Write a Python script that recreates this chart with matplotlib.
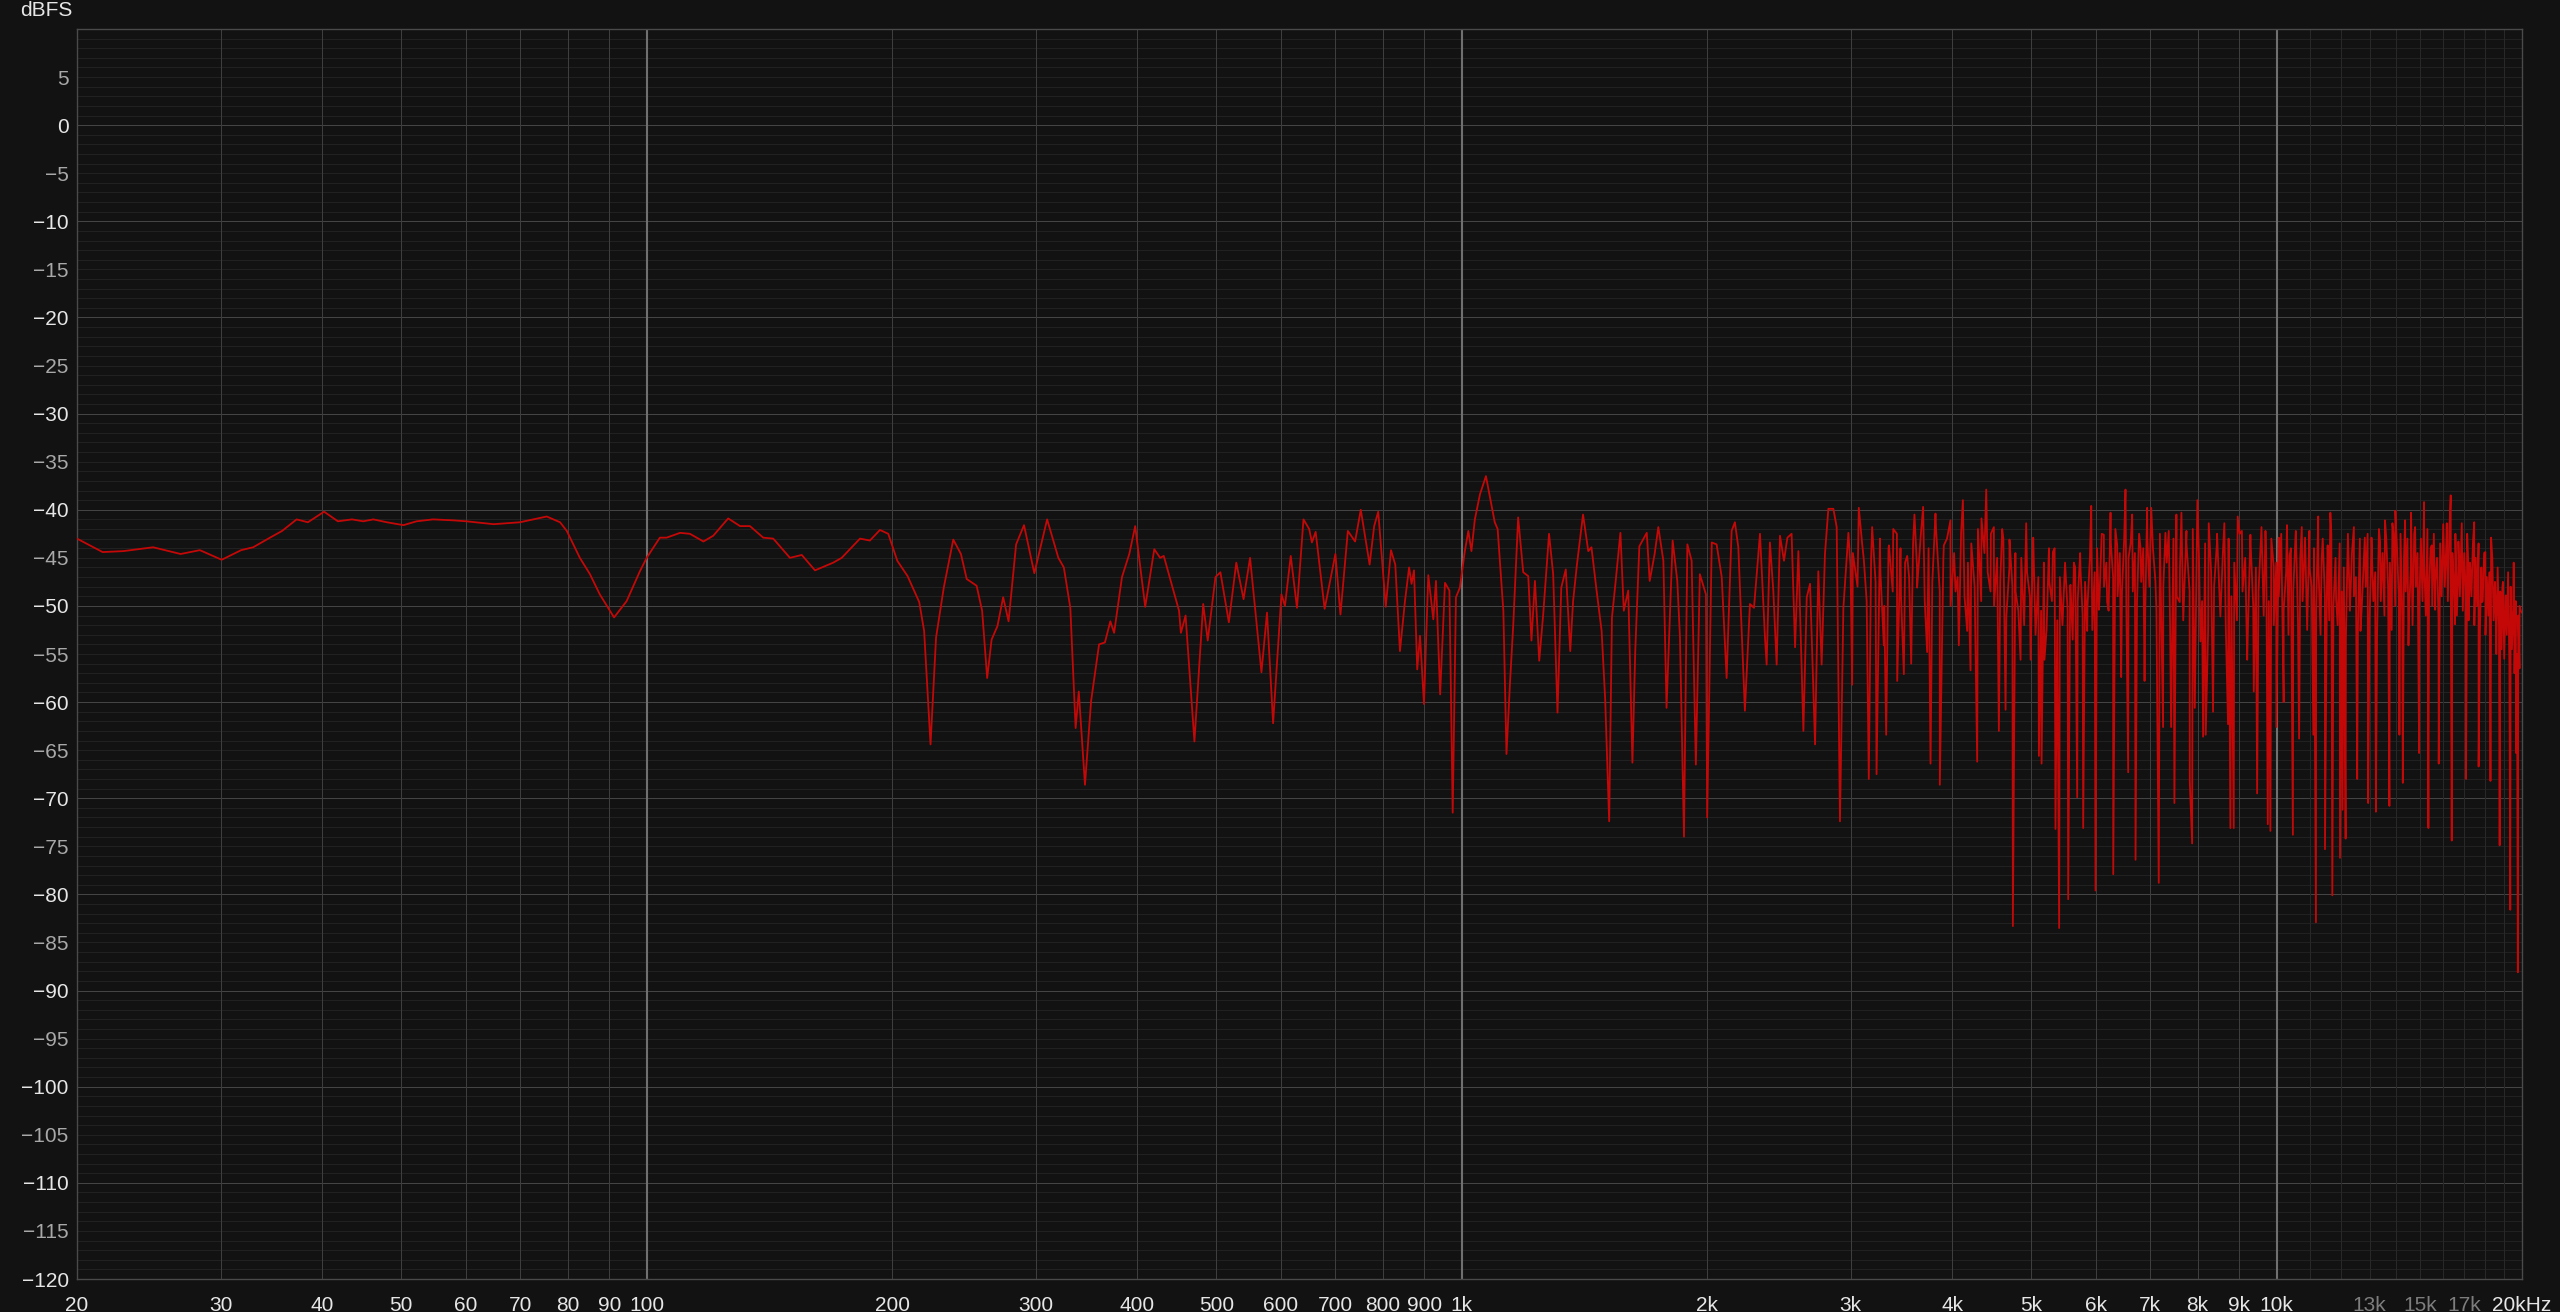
import numpy as np
import matplotlib.pyplot as plt

# Frequency response (Hz, dBFS)
freq_low = [20.0, 21.5, 22.8, 24.8, 26.8, 28.3, 30.1, 31.8, 32.9, 34.5, 35.7, 37.2, 38.4, 40.2,
            41.8, 43.5, 44.9, 46.2, 48.0, 50.3, 52.2, 54.7, 57.9, 60.1, 64.9, 69.9, 75.4, 78.3,
            79.8, 82.8, 85.2, 87.6, 91.2, 94.5, 98.1, 100, 103.8, 105.8, 109.9, 113.0, 117.4,
            120.7, 125.9, 130.2, 133.9, 139.0, 143.0, 149.9, 155.0, 160.9, 169.4, 173.5, 182.7,
            187.9, 193.3, 197.9]
db_low = [-43.0, -44.4, -44.3, -43.9, -44.6, -44.2, -45.2, -44.2, -43.9, -42.9, -42.2, -41.0,
          -41.3, -40.2, -41.2, -41.0, -41.2, -41.0, -41.3, -41.6, -41.2, -41.0, -41.1, -41.2,
          -41.5, -41.3, -40.7, -41.3, -42.2, -45.0, -46.7, -48.8, -51.2, -49.5, -46.4, -45.0,
          -42.9, -42.9, -42.4, -42.5, -43.3, -42.7, -40.9, -41.7, -41.7, -42.9, -43.0, -45.0,
          -44.7, -46.3, -45.5, -45.0, -43.0, -43.2, -42.1, -42.5]

freq_lmid = [203, 209, 216, 219, 223, 226.5, 231.5, 237.8, 243, 247, 254, 258, 261.7, 265,
             269.4, 273.8, 278, 284, 290.4, 299, 310, 320, 325, 331, 336, 339, 345, 351, 359,
             365, 370.6, 374.6, 383, 391, 397.6, 409, 419.6, 426.6, 431, 450, 452.4, 458.4,
             470, 481.8, 488, 498.8, 505.8, 518, 529, 540, 550, 568, 577, 587, 601, 607, 617,
             628, 639.6, 650, 655, 662, 679, 700, 710, 725, 740, 752, 771, 781, 790, 807, 819,
             829]
db_lmid = [-45.3, -46.9, -49.6, -52.6, -64.4, -53.3, -48.1, -43.1, -44.6, -47.2, -47.9, -50.5,
           -57.5, -53.5, -52.1, -49.1, -51.6, -43.6, -41.6, -46.6, -41.0, -45.0, -46.0, -50.2,
           -62.7, -58.9, -68.6, -59.9, -54.0, -53.8, -51.6, -52.8, -47.0, -44.6, -41.7, -50.1,
           -44.1, -45.0, -44.8, -50.5, -52.8, -51.0, -64.1, -49.8, -53.6, -47.0, -46.5, -51.7,
           -45.5, -49.3, -45.0, -56.9, -50.7, -62.2, -48.8, -50.0, -44.8, -50.2, -41.0, -42.0,
           -43.4, -42.3, -50.3, -44.6, -50.9, -42.2, -43.3, -40.0, -45.7, -41.7, -40.2, -50.1,
           -44.2, -45.7]

freq_mid = [840, 852, 862, 868, 874, 882, 889, 899, 910, 923, 930, 941, 954, 966, 975, 984, 995,
            1009, 1019, 1028, 1038, 1053, 1071, 1098, 1107, 1125, 1135, 1146, 1157, 1173, 1190,
            1207, 1218, 1230, 1245, 1259, 1280, 1295, 1311, 1325, 1342, 1359, 1370, 1385, 1409,
            1430, 1443, 1464, 1485, 1500, 1517, 1529, 1544, 1566, 1581, 1601, 1620, 1633, 1652,
            1687, 1701, 1725, 1743, 1768, 1784, 1815, 1839, 1853, 1874, 1892, 1915, 1938, 1960,
            1994, 2001, 2027, 2055, 2085, 2114, 2144, 2164, 2185, 2226, 2258, 2284, 2323, 2356,
            2367, 2389, 2412, 2435, 2458, 2486, 2510, 2540, 2565, 2589, 2626, 2651, 2676, 2714,
            2739, 2765, 2791, 2818, 2858, 2885, 2912, 2940, 2982]
db_mid = [-54.7, -49.5, -46.0, -47.7, -46.3, -56.6, -53.1, -60.2, -46.8, -51.4, -47.4, -59.2,
          -47.6, -48.4, -71.5, -49.1, -48.1, -44.3, -42.2, -44.3, -41.0, -38.4, -36.5, -41.3,
          -42.0, -50.5, -65.4, -58.2, -51.9, -40.8, -46.5, -46.9, -53.6, -47.4, -55.7, -50.9,
          -42.5, -46.7, -61.1, -48.1, -46.2, -54.7, -49.5, -45.7, -40.5, -44.3, -43.9, -48.4,
          -52.6, -59.7, -72.4, -51.2, -47.7, -42.4, -50.5, -48.4, -66.3, -54.7, -43.8, -42.4,
          -47.4, -44.6, -41.8, -45.3, -60.6, -43.2, -47.4, -53.3, -74.0, -43.6, -45.3, -66.5,
          -46.7, -48.8, -72.0, -43.4, -43.6, -47.0, -57.5, -42.2, -41.3, -43.9, -60.9, -49.8,
          -50.2, -42.5, -53.3, -56.1, -43.4, -48.4, -56.1, -42.7, -45.3, -42.9, -42.5, -54.3,
          -44.3, -63.0, -49.1, -47.7, -64.4, -46.4, -56.1, -44.6, -39.9, -39.9, -41.8, -72.4,
          -50.2, -42.4]

# 3k - 7k: peaks and notches
freq_hi = [3000, 3014, 3071, 3115, 3159, 3189, 3229, 3265, 3296, 3318, 3344, 3385, 3423, 3455,
           3488, 3521, 3561, 3594, 3621, 3683, 3725, 3761, 3814, 3861, 3905, 3979, 4036, 4074,
           4121, 4171, 4211, 4291, 4343, 4402, 4456, 4498, 4562, 4605, 4649, 4701, 4746, 4782,
           4850, 4928, 4990, 5027, 5108, 5147, 5189, 5255, 5314, 5353, 5409, 5482, 5549, 5585,
           5638, 5692, 5746, 5789, 5855, 5922, 5994, 6051, 6137, 6195, 6254, 6302, 6373, 6445,
           6524, 6574, 6649, 6712, 6808, 6885, 6936, 7016]
db_hi = [-45.9, -58.2, -39.8, -45.2, -68.0, -41.8, -67.5, -46.6, -54.1, -63.4, -43.7, -42.0,
         -57.8, -44.0, -57.1, -44.8, -56.0, -40.5, -48.1, -39.7, -54.8, -66.4, -40.4, -68.6,
         -43.7, -41.1, -48.5, -54.1, -39.0, -52.6, -56.7, -66.2, -40.9, -37.9, -48.5, -41.8,
         -63.0, -42.0, -60.8, -43.1, -83.3, -48.5, -55.6, -41.4, -55.6, -42.9, -65.6, -66.4,
         -55.6, -44.0, -44.4, -73.2, -83.5, -48.5, -80.5, -47.8, -45.5, -69.9, -46.3, -73.1,
         -52.6, -39.6, -79.6, -50.4, -42.6, -49.6, -40.3, -77.9, -43.7, -57.4, -37.9, -67.3,
         -40.5, -76.4, -44.0, -57.8, -39.8, -39.8]

# 7k - 20k: peaks and notches
freq_top = [7099, 7167, 7255, 7303, 7372, 7421, 7491, 7533, 7605, 7641, 7750, 7823, 7876, 7935,
            7994, 8062, 8123, 8184, 8254, 8355, 8450, 8530, 8626, 8716, 8775, 8858, 8957, 9065,
            9201, 9285, 9373, 9463, 9580, 9689, 9752, 9825, 9918, 9993, 10059, 10200, 10296,
            10372, 10469, 10557, 10655, 10735, 10836, 10968, 11092, 11174, 11246, 11355, 11463,
            11550, 11638, 11703, 11829, 11960, 12048, 12151, 12264, 12438, 12555, 12673, 12828,
            12950, 13073, 13236, 13393, 13581, 13751, 13868, 13986, 14145, 14282, 14375, 14512,
            14620, 14787, 14955, 15166, 15352, 15499, 15645, 15807, 15985, 16170, 16352, 16399,
            16554, 16711, 16870, 17077, 17191, 17474, 17693, 17863, 18033, 18295, 18328, 18561,
            18777, 18921, 19106, 19348, 19537, 19670, 19766, 19863, 20000]
db_top = [-47.4, -78.8, -62.6, -42.4, -42.2, -62.6, -70.5, -40.5, -49.6, -40.3, -42.2, -68.2,
          -74.7, -60.6, -39.0, -53.7, -63.6, -63.4, -41.4, -61.0, -43.3, -51.1, -41.4, -62.3,
          -73.1, -73.1, -40.7, -42.2, -55.6, -42.6, -58.9, -69.5, -41.8, -42.2, -72.7, -73.4,
          -45.9, -62.6, -42.9, -60.0, -41.6, -44.8, -73.8, -42.2, -63.8, -41.8, -42.9, -42.2,
          -63.4, -82.9, -40.7, -45.2, -75.3, -43.7, -40.3, -80.1, -49.3, -76.2, -71.2, -74.2,
          -46.6, -41.8, -68.0, -52.6, -42.9, -70.5, -42.9, -71.4, -43.3, -41.1, -70.8, -41.4,
          -40.1, -63.4, -68.4, -41.1, -54.1, -40.3, -41.8, -65.3, -39.2, -73.1, -43.7, -50.4,
          -66.4, -44.0, -41.4, -38.5, -74.4, -51.9, -43.3, -41.4, -68.0, -45.9, -41.3, -66.7,
          -49.6, -44.4, -68.2, -42.9, -49.6, -74.9, -48.1, -48.9, -81.6, -45.5, -65.3, -88.1,
          -50.0, -50.7]

# dense band between the peaks, 3k - 7k
freq_band_a = [3020, 3060, 3100, 3140, 3180, 3220, 3260, 3300, 3340, 3380, 3420, 3460, 3500, 3540,
               3580, 3620, 3660, 3700, 3740, 3780, 3820, 3860, 3900, 3940, 3980, 4020, 4060, 4100,
               4140, 4180, 4220, 4260, 4300, 4340, 4380, 4420, 4460, 4500, 4540, 4580, 4620, 4660,
               4700, 4740, 4780, 4820, 4860, 4900, 4940, 4980, 5020, 5060, 5100, 5140, 5180, 5220,
               5260, 5300, 5340, 5380, 5420, 5460, 5500, 5540, 5580, 5620, 5660, 5700, 5740, 5780,
               5820, 5860, 5900, 5940, 5980, 6020, 6060, 6100, 6140, 6180, 6220, 6260, 6300, 6340,
               6380, 6420, 6460, 6500, 6540, 6580, 6620, 6660, 6700, 6740, 6780, 6820, 6860, 6900,
               6940, 6980]
db_band_a = [-44.5, -48.0, -43.5, -49.5, -45.0, -47.5, -43.0, -50.0, -44.0, -48.5, -42.5, -49.0,
             -45.5, -47.0, -43.5, -46.0, -42.5, -49.5, -44.0, -47.5, -42.0, -48.5, -45.0, -43.0,
             -50.0, -44.5, -47.0, -42.5, -49.0, -45.5, -43.5, -48.0, -42.0, -49.5, -44.5, -46.5,
             -42.5, -50.0, -45.0, -47.5, -43.0, -51.0, -46.0, -48.0, -44.5, -50.5, -45.0, -52.0,
             -46.5, -49.0, -44.5, -53.0, -47.0, -50.5, -45.5, -52.5, -47.5, -49.5, -44.0, -51.5,
             -47.0, -52.0, -45.5, -50.5, -48.0, -53.5, -46.0, -49.5, -44.5, -51.0, -47.5, -50.0,
             -45.0, -52.5, -46.5, -44.0, -49.5, -42.5, -48.0, -45.5, -50.5, -43.5, -47.0, -42.0,
             -49.0, -44.5, -48.5, -43.0, -50.0, -45.0, -43.5, -48.5, -44.5, -49.5, -42.5, -47.5,
             -44.0, -50.0, -43.0, -48.0]

# dense band between the peaks, 7k - 20k
freq_band_b = [7050, 7120, 7190, 7260, 7330, 7400, 7470, 7540, 7610, 7680, 7750, 7820, 7890, 7960,
               8030, 8100, 8170, 8240, 8310, 8380, 8450, 8520, 8590, 8660, 8730, 8800, 8870, 8940,
               9010, 9080, 9150, 9220, 9290, 9360, 9430, 9500, 9570, 9640, 9710, 9780, 9850, 9920,
               9990, 10060, 10130, 10200, 10270, 10340, 10410, 10480, 10550, 10620, 10690, 10760,
               10830, 10900, 10970, 11040, 11110, 11180, 11250, 11320, 11390, 11460, 11530, 11600,
               11670, 11740, 11810, 11880, 11950, 12020, 12090, 12160, 12230, 12300, 12370, 12440,
               12510, 12580, 12650, 12720, 12790, 12860, 12930, 13000, 13070, 13140, 13210, 13280,
               13350, 13420, 13490, 13560, 13630, 13700, 13770, 13840, 13910, 13980, 14050, 14120,
               14190, 14260, 14330, 14400, 14470, 14540, 14610, 14680, 14750, 14820, 14890, 14960,
               15030, 15100, 15170, 15240, 15310, 15380, 15450, 15520, 15590, 15660, 15730, 15800,
               15870, 15940, 16010, 16080, 16150, 16220, 16290, 16360, 16430, 16500, 16570, 16640,
               16710, 16780, 16850, 16920, 16990, 17060, 17130, 17200, 17270, 17340, 17410, 17480,
               17550, 17620, 17690, 17760, 17830, 17900, 17970, 18040, 18110, 18180, 18250, 18320,
               18390, 18460, 18530, 18600, 18670, 18740, 18810, 18880, 18950, 19020, 19090, 19160,
               19230, 19300, 19370, 19440, 19510, 19580, 19650, 19720, 19790, 19860, 19930]
db_band_b = [-44.0, -50.5, -42.5, -48.0, -45.5, -52.0, -43.0, -49.0, -46.0, -51.5,
             -43.5, -48.5, -42.0, -51.0, -45.0, -49.5, -43.5, -52.5, -46.5, -48.0,
             -42.5, -50.0, -44.5, -52.0, -43.0, -49.0, -45.5, -51.5, -42.5, -48.5,
             -45.0, -52.5, -43.5, -50.0, -46.0, -48.5, -42.5, -51.0, -44.5, -49.5,
             -43.0, -52.0, -45.5, -49.0, -42.5, -50.5, -46.5, -53.0, -44.0, -48.5,
             -42.5, -51.5, -45.0, -49.5, -43.5, -52.5, -46.0, -48.0, -44.0, -50.5,
             -45.5, -53.0, -43.0, -49.0, -46.5, -51.5, -42.5, -50.0, -45.0, -52.0,
             -43.5, -48.5, -46.0, -53.5, -42.5, -50.5, -44.5, -49.0, -47.0, -52.5,
             -43.0, -50.0, -45.5, -48.0, -42.5, -51.5, -44.0, -49.5, -46.5, -53.0,
             -42.0, -49.5, -44.5, -51.0, -43.0, -48.0, -45.5, -52.5, -42.5, -50.0,
             -44.0, -49.0, -42.5, -51.5, -45.0, -48.5, -43.0, -50.5, -46.0, -52.0,
             -42.5, -48.0, -44.5, -50.5, -43.0, -49.5, -45.5, -51.0, -42.0, -48.5,
             -44.0, -50.0, -42.5, -47.5, -45.0, -51.5, -43.5, -49.0, -41.5, -48.0,
             -43.5, -49.5, -42.0, -50.5, -44.5, -48.0, -42.5, -51.0, -45.5, -49.0,
             -43.0, -50.5, -44.5, -48.5, -42.5, -51.5, -45.5, -49.0, -43.5, -52.0,
             -45.0, -50.0, -43.5, -52.5, -46.0, -49.5, -44.5, -53.0, -47.0, -51.0,
             -46.5, -53.5, -45.0, -51.5, -47.5, -55.0, -46.0, -52.0, -48.5, -54.5,
             -47.5, -55.5, -49.0, -53.0, -46.5, -56.0, -48.0, -54.5, -50.0, -57.0,
             -49.5, -55.0, -51.0, -56.5, -50.5]

x_ticks = [20, 30, 40, 50, 60, 70, 80, 90, 100, 200, 300, 400, 500, 600, 700, 800, 900, 1000,
           2000, 3000, 4000, 5000, 6000, 7000, 8000, 9000, 10000, 13000, 15000, 17000, 20000]
x_labels = ['20', '30', '40', '50', '60', '70', '80', '90', '100', '200', '300', '400', '500',
            '600', '700', '800', '900', '1k', '2k', '3k', '4k', '5k', '6k', '7k', '8k', '9k',
            '10k', '13k', '15k', '17k', '20kHz']
dim_labels = ['13k', '15k', '17k']

freq = np.array(freq_low + freq_lmid + freq_mid + freq_hi + freq_top + freq_band_a + freq_band_b,
                dtype=float)
db = np.array(db_low + db_lmid + db_mid + db_hi + db_top + db_band_a + db_band_b, dtype=float)
order = np.argsort(freq, kind='stable')
freq, db = freq[order], db[order]

plt.rcParams['font.family'] = ['Liberation Sans', 'DejaVu Sans']

bg = '#121212'
fig = plt.figure(figsize=(25.6, 13.12), dpi=100, facecolor=bg)
ax = fig.add_axes([77 / 2560, 1 - 1279 / 1312, 2445 / 2560, 1250 / 1312])
ax.set_facecolor(bg)
ax.set_xscale('log')
ax.set_xlim(20, 20000)
ax.set_ylim(-120, 10)

# grid: 1 dB fine lines, 10 dB stronger lines
for v in range(-119, 10):
    col = '#444444' if v % 10 == 0 else '#212121'
    ax.axhline(v, color=col, lw=0.75, zorder=1)

for f in x_ticks[1:-1]:
    if f in (100, 1000, 10000):
        ax.axvline(f, color='#707070', lw=1.5, zorder=1)
    elif f < 10000:
        ax.axvline(f, color='#3e3e3e', lw=0.75, zorder=1)
for f in range(11000, 20000, 1000):
    ax.axvline(f, color='#282828', lw=0.75, zorder=1)

ax.plot(freq, db, color='#c40808', lw=1.3, zorder=3)

ax.set_xticks(x_ticks)
ax.set_xticklabels(x_labels)
ax.xaxis.set_minor_locator(plt.NullLocator())
ax.set_yticks(np.arange(-120, 10, 5))
ax.tick_params(axis='both', length=0, labelsize=15)
ax.tick_params(axis='x', pad=12)
ax.tick_params(axis='y', pad=6)
for lab in ax.get_xticklabels():
    lab.set_color('#7d7d7d' if lab.get_text() in dim_labels else '#e6e6e6')
for lab, v in zip(ax.get_yticklabels(), np.arange(-120, 10, 5)):
    lab.set_color('#e6e6e6' if v % 10 == 0 else '#a8a8a8')

for s in ax.spines.values():
    s.set_color('#4a4a4a')
    s.set_linewidth(1.0)

fig.text(46 / 2560, 1 - 11 / 1312, 'dBFS', color='#e6e6e6', fontsize=15,
         ha='center', va='center')

fig.savefig('out.png', dpi=100, facecolor=bg)
